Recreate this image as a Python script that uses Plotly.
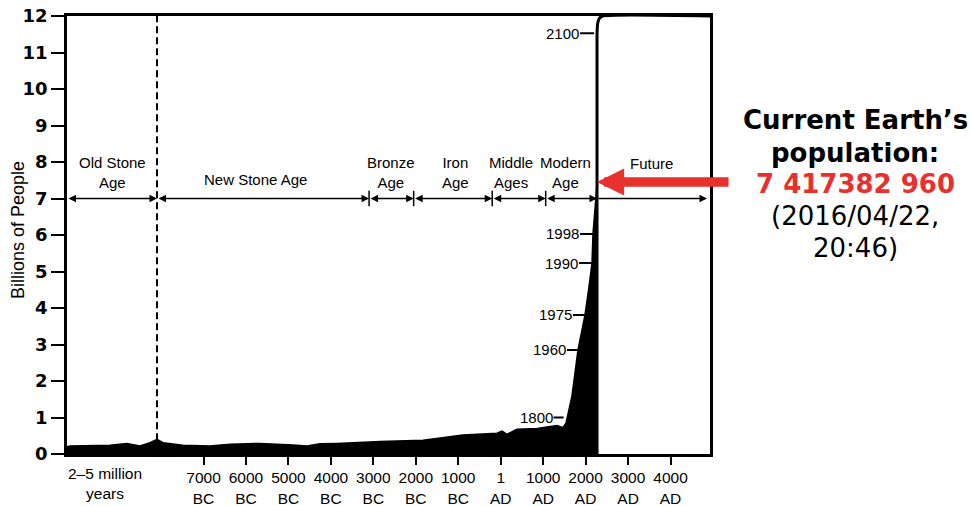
import plotly.graph_objects as go

# ---------------- data (x = position on the chart's schematic year axis) ----------------
pop_years = [-10215, -10144, -9202, -8802, -8496, -8260, -8095, -7954, -7483, -6847,
             -6376, -5669, -4892, -4562, -4256, -3855, -2843, -1830, -888, -87,
             31, 149, 384, 855, 1327, 1468, 1540, 1600, 1680, 1821,
             1986, 2070, 2151, 2174, 2222, 2269]
pop_billions = [0.20, 0.22, 0.24, 0.29, 0.22, 0.31, 0.40, 0.31, 0.24, 0.22,
                0.27, 0.29, 0.25, 0.22, 0.28, 0.29, 0.34, 0.38, 0.52, 0.57,
                0.63, 0.54, 0.68, 0.70, 0.78, 0.72, 0.85, 1.20, 1.60, 2.85,
                3.81, 4.50, 5.23, 6.03, 6.80, 7.40]

future_years = [2269, 2269, 2285, 2320, 2400, 4930]
future_billions = [0.0, 11.50, 11.80, 11.93, 12.0, 12.0]

era_names = ["Old Stone<br>Age", "New Stone Age", "Bronze<br>Age", "Iron<br>Age",
             "Middle<br>Ages", "Modern<br>Age", "Future"]
era_bounds = [-10215, -8095, -3100, -2050, -200, 1060, 2269, 4860]
era_label_x = [-9155, -5787, -2583, -1076, 250, 1530, 3541]
era_label_y = [7.70, 7.51, 7.70, 7.70, 7.70, 7.70, 7.95]
era_line_y = 7

tick_years = [-7000, -6000, -5000, -4000, -3000, -2000, -1000, 1, 1000, 2000, 3000, 4000]
tick_labels = ["7000<br>BC", "6000<br>BC", "5000<br>BC", "4000<br>BC", "3000<br>BC",
               "2000<br>BC", "1000<br>BC", "1<br>AD", "1000<br>AD", "2000<br>AD",
               "3000<br>AD", "4000<br>AD"]
ancient_label = "2\u20135 million<br>years"
ancient_label_x = -9320

milestone_labels = ["1800", "1960", "1975", "1990", "1998", "2100"]
milestone_x = [1480, 1821, 1986, 2151, 2174, 2200]
milestone_y = [1.0, 2.85, 3.81, 5.23, 6.03, 11.53]
milestone_len = [10, 11, 12, 13, 13, 14]

current_pop_y = 7.45
note_lines = ["Current Earth\u2019s", "population:", "7 417382 960", "(2016/04/22,", "20:46)"]
note_colors = ["black", "black", "#e8302e", "black", "black"]
note_weights = ["bold", "bold", "bold", "normal", "normal"]

RED = "#e8302e"
FONT = "Liberation Sans, Arial, sans-serif"

# ---------------- figure ----------------
fig = go.Figure()

# dashed boundary between Old and New Stone Age
fig.add_trace(go.Scatter(x=[era_bounds[1], era_bounds[1]], y=[0.38, 12], mode="lines",
                         line=dict(color="black", width=2, dash="7px,4px"),
                         hoverinfo="skip", showlegend=False))

# population fill
fig.add_trace(go.Scatter(x=pop_years, y=pop_billions, mode="lines", fill="tozeroy",
                         fillcolor="black", line=dict(color="black", width=1.5),
                         showlegend=False))

# future projection line
fig.add_trace(go.Scatter(x=future_years, y=future_billions, mode="lines",
                         line=dict(color="black", width=3, shape="spline", smoothing=0.6),
                         cliponaxis=False, showlegend=False))

# separators between ages
fig.add_trace(go.Scatter(x=era_bounds[2:6], y=[era_line_y] * 4, mode="markers",
                         marker=dict(symbol="line-ns", size=11,
                                     line=dict(color="black", width=1.5)),
                         hoverinfo="skip", showlegend=False))

annotations = []

# era arrows
for i in range(len(era_names)):
    last = i == len(era_names) - 1
    annotations.append(dict(
        x=era_bounds[i + 1], y=era_line_y, ax=era_bounds[i], ay=era_line_y,
        xref="x", yref="y", axref="x", ayref="y", text="", showarrow=True,
        arrowside="end" if last else "end+start", arrowhead=2, startarrowhead=2,
        arrowsize=1, startarrowsize=1, arrowwidth=1.5, arrowcolor="black"))
    annotations.append(dict(
        x=era_label_x[i], y=era_label_y[i], xref="x", yref="y", text=era_names[i],
        showarrow=False, font=dict(family=FONT, size=15, color="black"),
        xanchor="center", yanchor="middle"))

# milestones on the spike
for lab, mx, my, ml in zip(milestone_labels, milestone_x, milestone_y, milestone_len):
    annotations.append(dict(
        x=mx, y=my, xref="x", yref="y", text=lab, showarrow=True, arrowhead=0,
        arrowwidth=2, arrowcolor="black", ax=-ml, ay=0, xanchor="right",
        yanchor="middle", borderpad=0,
        font=dict(family=FONT, size=15, color="black")))

# ancient label under axis
annotations.append(dict(x=ancient_label_x, y=-0.02, xref="x", yref="paper",
                        text=ancient_label, showarrow=False, yanchor="top",
                        font=dict(family=FONT, size=15.5, color="black")))

# y axis title
annotations.append(dict(x=(18 - 67) / 643, y=(454 - 230) / 438, xref="paper", yref="paper",
                        text="Billions of People", textangle=-90, showarrow=False,
                        xanchor="center", yanchor="middle",
                        font=dict(family=FONT, size=18, color="black")))

# red arrow to current population
annotations.append(dict(x=future_years[0], y=current_pop_y, xref="x", yref="y",
                        ax=133, ay=0, text="", showarrow=True, arrowhead=2,
                        arrowsize=0.57, arrowwidth=9.5, arrowcolor=RED))

# note on the right
note_centers_px = [120.3, 152.7, 184.3, 216.0, 247.7]
for txt, col, w, cy in zip(note_lines, note_colors, note_weights, note_centers_px):
    annotations.append(dict(
        x=(855 - 67) / 643, y=(454 - cy) / 438, xref="paper", yref="paper",
        text=txt, showarrow=False, xanchor="center", yanchor="middle",
        font=dict(family="DejaVu Sans, Verdana, sans-serif", size=26, color=col, weight=w)))

fig.update_layout(
    width=971, height=506, autosize=False,
    margin=dict(l=67, r=261, t=16, b=52, autoexpand=False),
    paper_bgcolor="white", plot_bgcolor="white",
    showlegend=False,
    annotations=annotations,
    xaxis=dict(range=[-10215, 4930], showgrid=False, zeroline=False, automargin=False,
               showline=True, mirror=True, linecolor="black", linewidth=2.5,
               ticks="outside", ticklen=8, tickwidth=2, tickcolor="black",
               tickvals=tick_years, ticktext=tick_labels,
               tickfont=dict(family=FONT, size=15.5, color="black")),
    yaxis=dict(range=[0, 12], showgrid=False, zeroline=False, automargin=False,
               showline=True, mirror=True, linecolor="black", linewidth=2.5,
               ticks="outside", ticklen=13, tickwidth=2, tickcolor="black",
               tickvals=list(range(0, 13)),
               tickfont=dict(family="DejaVu Sans, sans-serif", size=18, color="black",
                             weight="bold")),
)

fig.write_html("out.html", config={"displayModeBar": False},
               post_script="document.body.style.margin='0';document.body.style.overflow='hidden';")
